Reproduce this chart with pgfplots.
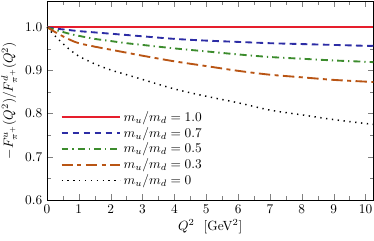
\documentclass[border=0pt]{standalone}
\usepackage{pgfplots}
\pgfplotsset{compat=1.18}
\usepackage{pgfplotstable}
\definecolor{cred}{RGB}{230,30,45}
\definecolor{cblue}{RGB}{45,45,165}
\definecolor{cgreen}{RGB}{60,140,45}
\definecolor{corange}{RGB}{185,85,20}
\pgfplotstableread{
x r b g o k
0     1.0 1.000 1.000 1.000 1.000
0.25  1.0 0.997 0.994 0.989 0.980
0.5   1.0 0.995 0.989 0.979 0.962
0.75  1.0 0.993 0.984 0.970 0.946
1     1.0 0.991 0.980 0.963 0.933
1.5   1.0 0.988 0.973 0.955 0.915
2     1.0 0.985 0.968 0.948 0.901
2.5   1.0 0.982 0.963 0.941 0.890
3     1.0 0.979 0.959 0.934 0.879
4     1.0 0.973 0.951 0.921 0.857
5     1.0 0.969 0.944 0.910 0.840
6     1.0 0.966 0.937 0.899 0.825
7     1.0 0.963 0.931 0.890 0.808
8     1.0 0.961 0.927 0.884 0.797
9     1.0 0.959 0.923 0.878 0.786
10    1.0 0.957 0.920 0.874 0.777
10.25 1.0 0.957 0.919 0.873 0.775
}\datatab
\begin{document}
\begin{tikzpicture}
\begin{axis}[
  scale only axis,
  width=245pt, height=149pt,
  xmin=0, xmax=10.25, ymin=0.6, ymax=1.06,
  xtick={0,1,...,10},
  ytick={0.6,0.7,0.8,0.9,1.0},
  minor x tick num=1,
  minor y tick num=1,
  tick align=inside,
  xticklabel style={/pgf/number format/.cd, fixed, precision=0},
  yticklabel style={/pgf/number format/.cd, fixed, fixed zerofill, precision=1},
  xlabel={$Q^2$\ \ [GeV$^2$]},
  ylabel={$-F^{u}_{\pi^+}(Q^2)/F^{d}_{\pi^+}(Q^2)$},
  xlabel style={yshift=2pt},
  ylabel style={yshift=-0.8pt},
  legend cell align=left,
  legend image code/.code={\draw[#1] (0pt,0pt) -- (44pt,0pt);},
  legend style={at={(axis description cs:0,0)}, anchor=south west,
    xshift=7pt, yshift=6pt, draw=none, fill=none, row sep=-1.2pt,
    nodes={inner sep=2pt}},
]
\addplot[cred, line width=1.4pt] table[x=x,y=r]{\datatab};
\addlegendentry{$m_u/m_d = 1.0$}
\addplot[cblue, line width=1.4pt, dash pattern=on 5pt off 3.3pt, smooth] table[x=x,y=b]{\datatab};
\addlegendentry{$m_u/m_d = 0.7$}
\addplot[cgreen, line width=1.4pt, dash pattern=on 5.2pt off 3pt on 1pt off 3pt, smooth] table[x=x,y=g]{\datatab};
\addlegendentry{$m_u/m_d = 0.5$}
\addplot[corange, line width=1.4pt, dash pattern=on 8.6pt off 3.3pt on 3pt off 3.3pt, smooth] table[x=x,y=o]{\datatab};
\addlegendentry{$m_u/m_d = 0.3$}
\addplot[black, line width=1.1pt, dash pattern=on 1pt off 3.4pt, smooth] table[x=x,y=k]{\datatab};
\addlegendentry{$m_u/m_d = 0$}
\end{axis}
\pgfresetboundingbox
\path[use as bounding box] ([xshift=-35.25pt,yshift=-30.75pt]current axis.south west) rectangle ([xshift=0.4pt,yshift=1pt]current axis.north east);
\end{tikzpicture}
\end{document}
